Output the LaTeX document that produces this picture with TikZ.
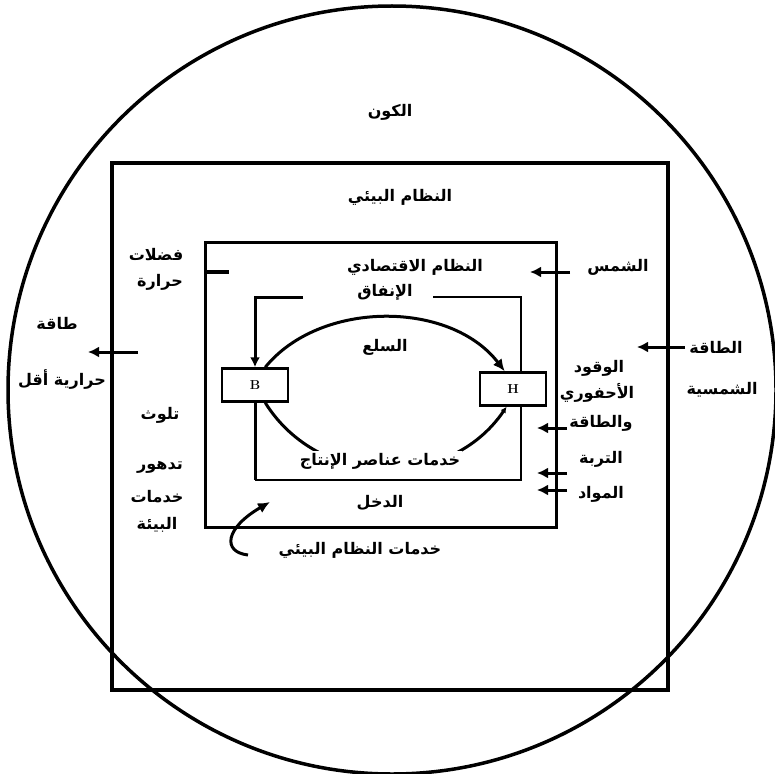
\documentclass[tikz,border=0pt]{standalone}
\usepackage{fontspec}
\usetikzlibrary{arrows.meta}
\newfontfamily\arabicfont[Script=Arabic]{DejaVu Sans}
\TeXXeTstate=1
\newcommand{\artxt}[1]{{\arabicfont\bfseries\beginR #1\endR}}

\begin{document}
\begin{tikzpicture}[x=1pt, y=-1pt, every node/.style={align=center, inner sep=1pt, font=\fontsize{16}{18}\selectfont}]
\tikzset{
  agent/.style={draw, line width=2.5pt, fill=white, minimum width=66pt, minimum height=33pt, font=\bfseries\fontsize{13}{15}\selectfont},
  flowin/.style={line width=3pt, -{Latex[length=11pt, width=11pt]}},
  flowarc/.style={line width=3pt, -{Latex[length=12pt, width=11pt]}}
}
\useasboundingbox (0,0) rectangle (775,773);

% Universe and the two systems
\draw[line width=3.5pt] (392,390) circle [radius=384pt];
\draw[line width=3.5pt] (112,163) rectangle (668,690);
\draw[line width=3pt] (205,242) rectangle (556,527);

\node (univ) at (390,112) {\artxt{الكون}};
\node (eco) at (400,197) {\artxt{النظام البيئي}};
\node (econ) at (415,267) {\artxt{النظام الاقتصادي}};

% Circular flow
\node[agent] (bus) at (255,385) {B};
\node[agent] (hh) at (513,389) {H};

\coordinate (spendL) at (303,297);
\coordinate (spendR) at (433,297);
\coordinate (topR) at (521,297);
\coordinate (botL) at (255,480);
\coordinate (botR) at (521,480);

\node (spend) at (385,292) {\artxt{الإنفاق}};
\draw[line width=3pt, -{Latex[length=10pt, width=10pt]}] (spendL) -- (spendL -| bus.north) -- (bus.north);
\draw[line width=1.8pt] (spendR) -- (topR) -- (topR |- hh.north);
\draw[line width=3pt] (bus.south) -- (botL);
\draw[line width=1.8pt] (botL) -- (botR) -- (botR |- hh.south);

\draw[flowarc] (bus.60) .. controls (320,300) and (450,300) .. (hh.115);
\draw[line width=3pt, -{Latex[length=6pt, width=6pt]}] (bus.-60) .. controls (320,490) and (450,490) .. (hh.-110);

\node (goods) at (385,347) {\artxt{السلع}};
\node[fill=white, inner sep=2pt] (factor) at (380,461) {\artxt{خدمات عناصر الإنتاج}};
\node (income) at (380,503) {\artxt{الدخل}};

% Outflows (left)
\coordinate (wasteA) at (205,272);
\coordinate (wasteB) at (229,272);
\draw[line width=3.5pt] (wasteA) -- (wasteB);
\node (waste1) at (156,255) {\artxt{فضلات}};
\node (waste2) at (160,282) {\artxt{حرارة}};

\coordinate (heatA) at (138,352);
\coordinate (heatB) at (88,352);
\draw[flowin] (heatA) -- (heatB);
\node (heat1) at (57,323) {\artxt{طاقة}};
\node (heat2) at (62,380) {\artxt{حرارية أقل}};

\node (pollut) at (160,415) {\artxt{تلوث}};
\node (degr1) at (160,467) {\artxt{تدهور}};
\node (degr2) at (157,497) {\artxt{خدمات}};
\node (degr3) at (157,525) {\artxt{البيئة}};

% Inflows (right)
\coordinate (sunA) at (570,272);
\coordinate (sunB) at (530,272);
\draw[flowin] (sunA) -- (sunB);
\node (sun) at (618,267) {\artxt{الشمس}};

\coordinate (solarA) at (685,347);
\coordinate (solarB) at (637,347);
\draw[flowin] (solarA) -- (solarB);
\node (solar1) at (716,347) {\artxt{الطاقة}};
\node (solar2) at (722,390) {\artxt{الشمسية}};

\coordinate (fuelA) at (567,428);
\coordinate (fuelB) at (537,428);
\draw[flowin] (fuelA) -- (fuelB);
\node (fuel1) at (599,368) {\artxt{الوقود}};
\node (fuel2) at (597,393) {\artxt{الأحفوري}};
\node (fuel3) at (601,423) {\artxt{والطاقة}};

\coordinate (soilA) at (567,473);
\coordinate (soilB) at (537,473);
\draw[flowin] (soilA) -- (soilB);
\node (soil) at (601,459) {\artxt{التربة}};

\coordinate (matA) at (567,490);
\coordinate (matB) at (537,490);
\draw[flowin] (matA) -- (matB);
\node (mat) at (601,494) {\artxt{المواد}};

% Ecosystem services
\coordinate (servA) at (248,555);
\coordinate (servB) at (270,502);
\draw[flowarc] (servA) .. controls (222,552) and (225,528) .. (servB);
\node (serv) at (360,550) {\artxt{خدمات النظام البيئي}};

\end{tikzpicture}
\end{document}
